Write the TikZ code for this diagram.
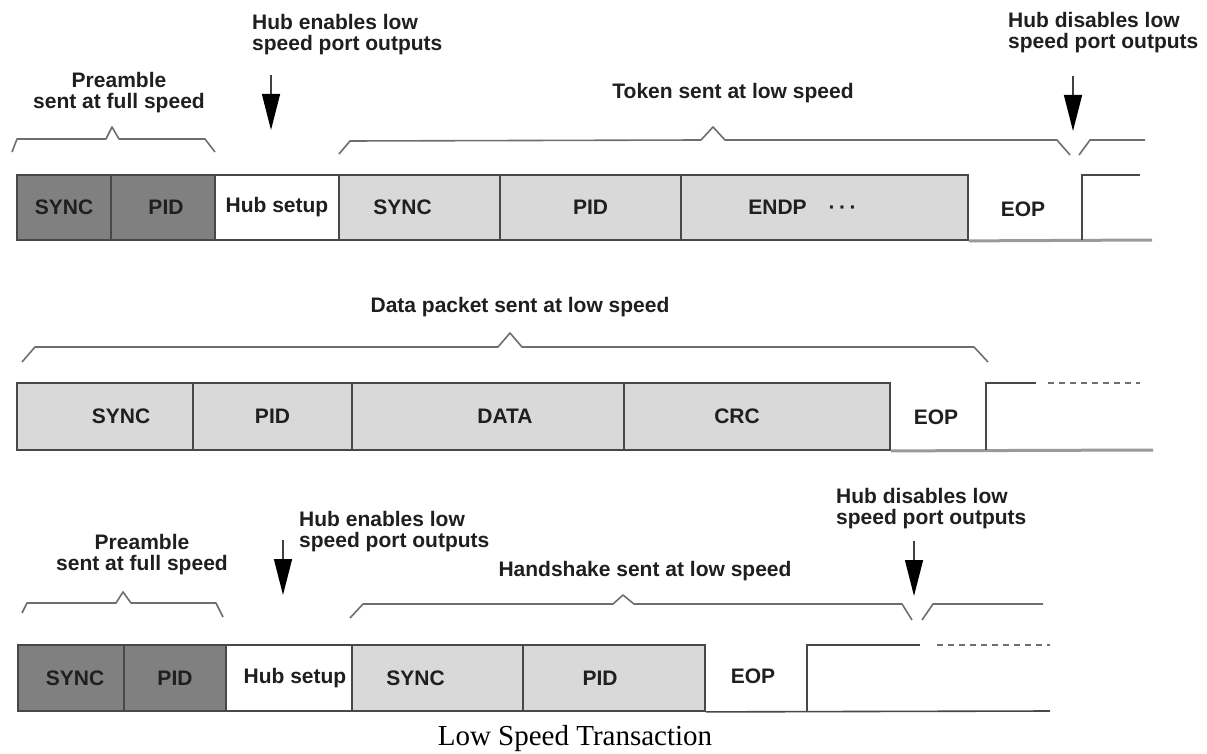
\documentclass[tikz,border=0pt]{standalone}
\usepackage{fontspec}
\setmainfont{Liberation Serif}
\setsansfont{Liberation Sans}
\usetikzlibrary{arrows.meta}
\definecolor{darkfld}{HTML}{808080}
\definecolor{lightfld}{HTML}{D9D9D9}
\definecolor{edgegray}{HTML}{484848}
\definecolor{bracegray}{HTML}{6E6E6E}
\definecolor{busgray}{HTML}{9A9A9A}
\begin{document}
\begin{tikzpicture}[x=1pt,y=-1pt,
  lbl/.style={font=\sffamily\bfseries\fontsize{21}{21}\selectfont, text=black!88, inner sep=0pt},
  note/.style={lbl, align=left, anchor=west},
  ctr/.style={lbl, align=center},
  fld/.style={draw=edgegray, line width=1.8pt, inner sep=0pt},
  darkbox/.style={fld, fill=darkfld},
  lightbox/.style={fld, fill=lightfld},
  whitebox/.style={fld, fill=white},
  brc/.style={draw=bracegray, line width=1.6pt, line join=round},
  bus/.style={draw=busgray, line width=3pt},
  edgeline/.style={draw=edgegray, line width=1.6pt},
  idle/.style={draw=bracegray, line width=1.6pt, dash pattern=on 6pt off 5pt},
  pointer/.style={draw=black!75, line width=1.4pt,
    -{Triangle[length=36pt,width=18pt,color=black]}},
  caption/.style={font=\rmfamily\fontsize{29}{29}\selectfont, inner sep=0pt}
]
\useasboundingbox (0,0) rectangle (1207,754);

% ---------------- Token phase ----------------
\node[darkbox,  minimum width=94pt,  minimum height=65pt, label={[lbl]center:SYNC}] (async) at (64,207.5) {};
\node[darkbox,  minimum width=104pt, minimum height=65pt, label={[lbl,xshift=3pt]center:PID}] (apid) at (163,207.5) {};
\node[whitebox, minimum width=124pt, minimum height=65pt, label={[lbl]center:Hub setup}] (ahub) at (277,207.5) {};
\node[lightbox, minimum width=161pt, minimum height=65pt, label={[lbl,xshift=-17pt]center:SYNC}] (tsync) at (419.5,207.5) {};
\node[lightbox, minimum width=181pt, minimum height=65pt, label={[lbl]center:PID}] (tpid) at (590.5,207.5) {};
\node[lightbox, minimum width=287pt, minimum height=65pt,
      label={[lbl,xshift=-22pt]center:ENDP\hspace{22pt}·\hspace{3.5pt}·\hspace{3.5pt}·}] (tendp) at (824.5,207.5) {};
\node[lbl] (teop) at (1023,209) {EOP};
\draw[bus] (tendp.south east) -- (1152,240);
\draw[edgeline] (1082,240) -- (1082,175) -- (1140,175);

\node[ctr] (apre) at (119,92.5) {Preamble\\sent at full speed};
\draw[brc] (12,152) -- (17,139) -- (106,139) -- (112,127) -- (119,139) -- (205,139) -- (215,152);
\node[note] (aen) at (252,35) {Hub enables low\\speed port outputs};
\coordinate (aen1) at (271,75);
\coordinate (aen2) at (271,130);
\draw[pointer] (aen1) -- (aen2);

\node[lbl] (ttok) at (733,93) {Token sent at low speed};
\draw[brc] (339,154) -- (350,141) -- (701,140) -- (713,127) -- (725,140) -- (1057,140) -- (1070,155);
\draw[brc] (1079,155) -- (1090,140) -- (1145,140);
\node[note] (tdis) at (1008,33) {Hub disables low\\speed port outputs};
\coordinate (tdis1) at (1073,76);
\coordinate (tdis2) at (1073,131);
\draw[pointer] (tdis1) -- (tdis2);

% ---------------- Data phase ----------------
\node[lightbox, minimum width=176pt, minimum height=67pt, label={[lbl,xshift=16pt]center:SYNC}] (dsync) at (105,416.5) {};
\node[lightbox, minimum width=159pt, minimum height=67pt, label={[lbl]center:PID}] (dpid) at (272.5,416.5) {};
\node[lightbox, minimum width=272pt, minimum height=67pt, label={[lbl,xshift=17pt]center:DATA}] (ddata) at (488,416.5) {};
\node[lightbox, minimum width=266pt, minimum height=67pt, label={[lbl,xshift=-20pt]center:CRC}] (dcrc) at (757,416.5) {};
\node[lbl] (deop) at (936,417) {EOP};
\draw[bus] (dcrc.south east) -- (1153,450);
\draw[edgeline] (986,450) -- (986,383) -- (1036,383);
\draw[idle] (1048,383) -- (1140,383);

\node[lbl] (dlab) at (520,307) {Data packet sent at low speed};
\draw[brc] (22,362) -- (35,347) -- (498,347) -- (510,333) -- (522,347) -- (974,347) -- (988,362);

% ---------------- Handshake phase ----------------
\node[darkbox,  minimum width=106pt, minimum height=66pt, label={[lbl,xshift=4pt]center:SYNC}] (hsync0) at (71,678) {};
\node[darkbox,  minimum width=102pt, minimum height=66pt, label={[lbl]center:PID}] (hpid0) at (175,678) {};
\node[whitebox, minimum width=126pt, minimum height=66pt, label={[lbl,xshift=6pt]center:Hub setup}] (hhub) at (289,678) {};
\node[lightbox, minimum width=171pt, minimum height=66pt, label={[lbl,xshift=-22pt]center:SYNC}] (hsync) at (437.5,678) {};
\node[lightbox, minimum width=182pt, minimum height=66pt, label={[lbl,xshift=-14pt]center:PID}] (hpid) at (614,678) {};
\node[lbl] (heop) at (753,676) {EOP};
\draw[edgeline] (hpid.south east) -- (1050,711);
\draw[edgeline] (807,711) -- (807,645) -- (920,645);
\draw[idle] (937,645) -- (1050,645);

\node[ctr] (hpre) at (142,555) {Preamble\\sent at full speed};
\draw[brc] (22,613) -- (27,603) -- (116,603) -- (123,592) -- (131,603) -- (216,603) -- (223,617);
\node[note] (hen) at (299,532) {Hub enables low\\speed port outputs};
\coordinate (hen1) at (283,540);
\coordinate (hen2) at (283,595);
\draw[pointer] (hen1) -- (hen2);

\node[lbl] (hlab) at (645,571) {Handshake sent at low speed};
\draw[brc] (350,618) -- (363,604) -- (613,604) -- (623,595) -- (634,604) -- (902,604) -- (912,620);
\draw[brc] (922,620) -- (933,604) -- (1043,604);
\node[note] (hdis) at (836,509) {Hub disables low\\speed port outputs};
\coordinate (hdis1) at (914,541);
\coordinate (hdis2) at (914,596);
\draw[pointer] (hdis1) -- (hdis2);

\node[caption] (cap) at (575,739) {Low Speed Transaction};
\end{tikzpicture}
\end{document}
